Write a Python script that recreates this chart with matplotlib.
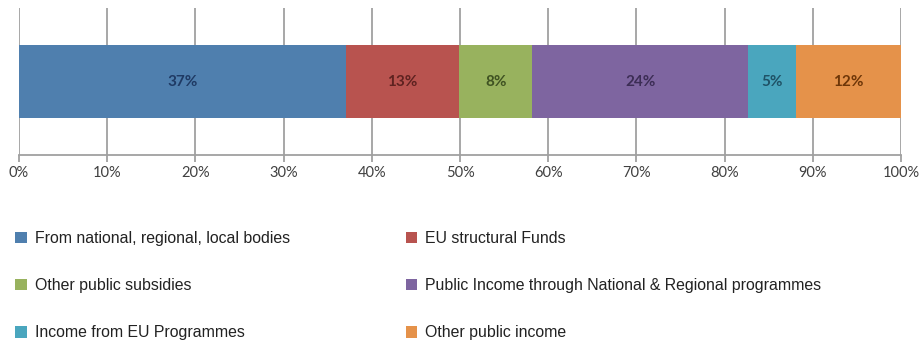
import matplotlib
matplotlib.use("Agg")
import matplotlib.pyplot as plt
from matplotlib.patches import Patch

# Share of public income by source (percent of total)
categories = [
    "From national, regional, local bodies",
    "EU structural Funds",
    "Other public subsidies",
    "Public Income through National & Regional programmes",
    "Income from EU Programmes",
    "Other public income",
]
shares = [37.1, 12.8, 8.3, 24.5, 5.4, 11.9]
tick_values = [0, 10, 20, 30, 40, 50, 60, 70, 80, 90, 100]

bar_colors = ["#4f7fae", "#b8534f", "#98b25e", "#7e65a0", "#4aa6be", "#e5924a"]
text_colors = ["#1f3a64", "#5e2220", "#3f5222", "#3c2d55", "#1f5266", "#6e3608"]

W, H, DPI = 922, 342, 100
fig = plt.figure(figsize=(W / DPI, H / DPI), dpi=DPI)
ax = fig.add_axes([19 / W, 1 - 155 / H, 882 / W, 147 / H])

left = 0
for val, col, tcol in zip(shares, bar_colors, text_colors):
    ax.barh(0, val, left=left, height=0.494, color=col, zorder=3)
    ax.text(left + val / 2, 0, f"{val:.0f}%", ha="center", va="center",
            color=tcol, fontsize=11, fontweight="bold", family="Lato", zorder=4)
    left += val

ax.set_xlim(0, 100)
ax.set_ylim(-0.5, 0.5)
ax.set_xticks(tick_values)
ax.set_xticklabels([f"{t}%" for t in tick_values], family="Lato", fontsize=10.5,
                   color="#404040")
ax.set_yticks([])
ax.grid(axis="x", color="#a0a0a0", linewidth=1.3, zorder=0)
for s in ("top", "right", "left"):
    ax.spines[s].set_visible(False)
ax.spines["bottom"].set_color("#a0a0a0")
ax.spines["bottom"].set_linewidth(1.3)
ax.tick_params(axis="x", length=5, width=1.3, color="#a0a0a0", pad=3)

# legend laid out as 3 rows x 2 columns (matplotlib fills column-wise)
handles = [Patch(facecolor=c) for c in bar_colors]
order = [0, 2, 4, 1, 3, 5]
leg = fig.legend([handles[i] for i in order], [categories[i] for i in order],
                 ncol=2, loc="upper left", bbox_to_anchor=(15 / W, 1 - 231 / H),
                 frameon=False, borderpad=0, borderaxespad=0,
                 handlelength=0.75, handleheight=0.75, handletextpad=0.5,
                 labelspacing=2.03, columnspacing=7.3,
                 prop={"family": "Liberation Sans", "size": 11.4})
for t in leg.get_texts():
    t.set_color("#222222")

fig.savefig("out.png", dpi=DPI)
